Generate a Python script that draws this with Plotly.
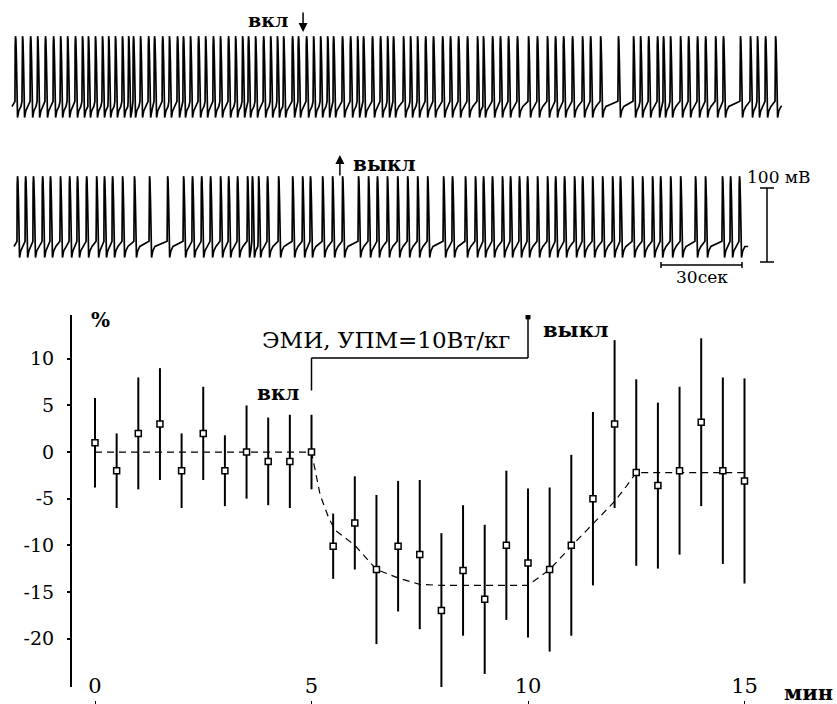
import plotly.graph_objects as go

W, H = 837, 704

# ---------------- intracellular recordings ----------------
# spike onset times (s) in the recording before/at field onset ("вкл")
spikes_on = [1.1, 3.7, 6.7, 9.3, 12.2, 15.2, 17.8, 20.4, 23.3, 25.9, 28.1, 30.7, 33.3,
             35.6, 38.1, 40.7, 43.0, 44.8, 47.4, 50.4, 52.6, 55.6, 58.1, 61.1, 63.3,
             65.9, 68.9, 71.5, 74.4, 77.0, 80.0, 82.6, 85.2, 87.4, 90.0, 93.0, 95.6,
             98.1, 100.4, 103.7, 105.9, 108.9, 111.5, 114.1, 116.7, 118.9, 122.2,
             125.2, 127.8, 130.0, 133.3, 136.3, 138.9, 141.1, 144.8, 147.4, 150.0,
             153.0, 155.9, 159.3, 162.2, 165.2, 168.5, 172.2, 174.4, 177.8, 180.7,
             183.7, 187.0, 191.1, 194.4, 198.1, 201.1, 204.1, 207.4, 211.1, 214.1,
             217.8, 224.4, 230.0, 232.6, 235.6, 238.9, 241.1, 243.7, 247.4, 250.4,
             253.7, 256.7, 260.4, 263.3, 269.6, 273.3, 275.9, 278.9, 282.6]
# spike onset times (s) in the recording around field offset ("выкл")
spikes_off = [1.1, 4.1, 7.0, 10.4, 13.3, 17.0, 20.4, 23.3, 26.7, 30.4, 33.3, 36.3, 40.0,
              44.4, 50.0, 56.7, 62.6, 65.9, 69.3, 72.6, 76.3, 79.3, 82.6, 86.3, 88.1,
              90.4, 93.7, 97.8, 103.0, 106.7, 109.6, 114.1, 117.8, 121.5, 127.4, 131.1,
              134.4, 138.1, 141.9, 145.6, 149.3, 153.0, 158.9, 162.2, 167.0, 170.7,
              173.7, 177.0, 180.7, 183.7, 187.0, 190.0, 193.7, 197.4, 200.4, 203.7,
              207.4, 210.4, 214.1, 217.8, 221.5, 224.4, 228.9, 232.6, 236.3, 239.3,
              243.0, 246.7, 252.2, 255.9, 262.2, 265.2, 268.5]
rec_on_len = 285.2    # s
rec_off_len = 271.9   # s
mark_on_t = 107.8     # s, field switched on
mark_off_t = 120.7    # s, field switched off

# shape of a single action potential: time after onset (s), potential (mV from rest)
ap_dt = [0.0, 0.08, 0.2, 0.35, 0.55, 0.75, 0.95, 1.4, 2.2]
ap_mv = [5, 80, 93, 88, 60, 10, -17, -8, -2]
rest_mv = -2

scale_t = 30    # s
scale_v = 100   # mV

# ---------------- averaged response ----------------
minutes = [0, 0.5, 1, 1.5, 2, 2.5, 3, 3.5, 4, 4.5, 5, 5.5, 6, 6.5, 7, 7.5, 8, 8.5,
           9, 9.5, 10, 10.5, 11, 11.5, 12, 12.5, 13, 13.5, 14, 14.5, 15]
change_pct = [1, -2, 2, 3, -2, 2, -2, 0, -1, -1, 0, -10.1, -7.6, -12.6, -10.1, -11,
              -17, -12.7, -15.8, -10, -11.9, -12.6, -10, -5, 3, -2.2, -3.6, -2, 3.2,
              -2, -3.1]
err_pct = [4.8, 4, 6, 6, 4, 5, 3.8, 5, 4.7, 5, 4, 3.5, 5, 8, 7, 8, 8.3, 7, 8, 8, 8,
           8.8, 9.7, 9.3, 9, 10, 8.9, 9, 9, 10, 11]
fit_min = [0, 5, 5.2, 5.4, 5.55, 6, 6.5, 7, 7.5, 8, 10, 10.5, 11, 11.5, 12, 12.25,
           12.5, 15]
fit_pct = [0, 0, -4.6, -7.1, -8.4, -10, -12.6, -13.5, -14.2, -14.3, -14.3, -12.6,
           -10.1, -7.7, -5.3, -3.8, -2.2, -2.2]
stim_on, stim_off = 5, 10
y_ticks = [10, 5, 0, -5, -10, -15, -20]
x_ticks = [0, 5, 10, 15]

SERIF = "DejaVu Serif"
PX_S = 2.7      # px per second on the recordings
PX_MV = 0.74    # px per mV on the recordings


def build_trace(spikes, t_end):
    xs, ys = [0.0], [rest_mv]
    for i, ts in enumerate(spikes):
        nxt = spikes[i + 1] if i + 1 < len(spikes) else t_end
        for dt, v in zip(ap_dt, ap_mv):
            if ts + dt < nxt:
                xs.append(ts + dt)
                ys.append(v)
    xs.append(t_end)
    ys.append(rest_mv)
    return xs, ys


def py(p):
    return 1 - p / H


fig = go.Figure()

x1, y1 = build_trace(spikes_on, rec_on_len)
x2, y2 = build_trace(spikes_off, rec_off_len)
line_style = dict(color="black", width=1.7)
fig.add_trace(go.Scatter(x=x1, y=y1, mode="lines", line=line_style,
                         xaxis="x", yaxis="y", hoverinfo="skip"))
fig.add_trace(go.Scatter(x=x2, y=y2, mode="lines", line=line_style,
                         xaxis="x2", yaxis="y2", hoverinfo="skip"))

# averaged response panel
fig.add_trace(go.Scatter(x=fit_min, y=fit_pct, mode="lines",
                         line=dict(color="black", width=1.2, dash="7px,5px"),
                         xaxis="x3", yaxis="y3", hoverinfo="skip"))
fig.add_trace(go.Scatter(
    x=minutes, y=change_pct, mode="markers",
    marker=dict(symbol="square", size=6, color="white",
                line=dict(color="black", width=1.5)),
    error_y=dict(type="data", array=err_pct, visible=True, color="black",
                 thickness=2, width=0),
    xaxis="x3", yaxis="y3"))
fig.add_trace(go.Scatter(x=[stim_off], y=[14.5], mode="markers",
                         marker=dict(symbol="square", size=5, color="black"),
                         xaxis="x3", yaxis="y3", hoverinfo="skip"))

# axis geometry for the two recordings
top_base, top_lo, top_hi = 105, 125, 0
bot_base, bot_lo, bot_hi = 245, 290, 140
lay = dict(
    width=W, height=H, margin=dict(l=0, r=0, t=0, b=0),
    paper_bgcolor="white", plot_bgcolor="white", showlegend=False,
    xaxis=dict(domain=[0, 1], range=[-12 / PX_S, (W - 12) / PX_S], visible=False,
               anchor="y"),
    yaxis=dict(domain=[py(top_lo), py(top_hi)],
               range=[-(top_lo - top_base) / PX_MV, (top_base - top_hi) / PX_MV],
               visible=False, anchor="x"),
    xaxis2=dict(domain=[0, 1], range=[-14 / PX_S, (W - 14) / PX_S], visible=False,
                anchor="y2"),
    yaxis2=dict(domain=[py(bot_lo), py(bot_hi)],
                range=[-(bot_lo - bot_base) / PX_MV, (bot_base - bot_hi) / PX_MV],
                visible=False, anchor="x2"),
    xaxis3=dict(domain=[72 / W, 1], range=[-23 / 43.3, (W - 95) / 43.3],
                anchor="free", position=py(700), showline=False, showgrid=False,
                zeroline=False, tickvals=x_ticks, ticktext=[str(v) for v in x_ticks],
                ticks="outside", ticklen=4, tickwidth=1, tickcolor="black",
                ticklabelposition="inside", ticklabelstandoff=0,
                tickfont=dict(family=SERIF, size=21, color="black")),
    yaxis3=dict(domain=[py(687), py(315)], range=[-25.2, 14.7], anchor="x3",
                showline=True, linewidth=2, linecolor="black", showgrid=False,
                zeroline=False, tickvals=y_ticks,
                ticktext=[str(v) for v in y_ticks], ticks="outside", ticklen=3,
                tickwidth=1.5, tickcolor="black", ticklabelstandoff=9,
                tickfont=dict(family=SERIF, size=19, color="black")),
)
fig.update_layout(**lay)

shapes = []
# stimulation bracket
for xa, xb, ya, yb in [(stim_on, stim_on, 6.6, 10.1), (stim_on, stim_off, 10.1, 10.1),
                       (stim_off, stim_off, 10.1, 14.4)]:
    shapes.append(dict(type="line", xref="x3", yref="y3", x0=xa, x1=xb, y0=ya, y1=yb,
                       line=dict(color="black", width=1.5)))
# calibration bars on the second recording
sb_t0 = (661 - 14) / PX_S
sb_v = -(265 - bot_base) / PX_MV
shapes.append(dict(type="line", xref="x2", yref="y2", x0=sb_t0, x1=sb_t0 + scale_t,
                   y0=sb_v, y1=sb_v, line=dict(color="black", width=1.5)))
for tt in (sb_t0, sb_t0 + scale_t):
    shapes.append(dict(type="line", xref="x2", yref="y2", x0=tt, x1=tt,
                       y0=sb_v - 4, y1=sb_v + 4, line=dict(color="black", width=1.5)))
vb_t = (767 - 14) / PX_S
vb_lo = -(262 - bot_base) / PX_MV
shapes.append(dict(type="line", xref="x2", yref="y2", x0=vb_t, x1=vb_t,
                   y0=vb_lo, y1=vb_lo + scale_v, line=dict(color="black", width=1.5)))
for vv in (vb_lo, vb_lo + scale_v):
    shapes.append(dict(type="line", xref="x2", yref="y2", x0=vb_t - 2.6, x1=vb_t + 2.6,
                       y0=vv, y1=vv, line=dict(color="black", width=1.5)))
fig.update_layout(shapes=shapes)

ann = []
# field on / off marks on the recordings
ann.append(dict(x=mark_on_t, y=(top_base - 32) / PX_MV, xref="x", yref="y", text="",
                showarrow=True, ax=0, ay=-21, arrowhead=2, arrowsize=1.2,
                arrowwidth=1.5, arrowcolor="black"))
ann.append(dict(x=(268 - 12) / PX_S, y=(top_base - 20) / PX_MV, xref="x", yref="y",
                text="<b>вкл</b>", showarrow=False, xanchor="center",
                font=dict(family=SERIF, size=19, color="black")))
ann.append(dict(x=mark_off_t, y=(bot_base - 155) / PX_MV, xref="x2", yref="y2", text="",
                showarrow=True, ax=0, ay=22, arrowhead=2, arrowsize=1.2,
                arrowwidth=1.5, arrowcolor="black"))
ann.append(dict(x=(384 - 14) / PX_S, y=(bot_base - 164) / PX_MV, xref="x2", yref="y2",
                text="<b>выкл</b>", showarrow=False, xanchor="center",
                font=dict(family=SERIF, size=20, color="black")))
ann.append(dict(x=(702 - 14) / PX_S, y=-(277 - bot_base) / PX_MV, xref="x2", yref="y2",
                text="30сек", showarrow=False, xanchor="center",
                font=dict(family=SERIF, size=17, color="black")))
ann.append(dict(x=(779 - 14) / PX_S, y=(bot_base - 177) / PX_MV, xref="x2", yref="y2",
                text="100 мВ", showarrow=False, xanchor="center",
                font=dict(family=SERIF, size=17, color="black")))
# averaged response labels
ann.append(dict(x=6.71, y=12.0, xref="x3", yref="y3", text="ЭМИ, УПМ=10Вт/кг",
                showarrow=False, xanchor="center",
                font=dict(family=SERIF, size=23, color="black")))
ann.append(dict(x=4.23, y=6.3, xref="x3", yref="y3", text="<b>вкл</b>",
                showarrow=False, xanchor="center",
                font=dict(family=SERIF, size=20, color="black")))
ann.append(dict(x=11.1, y=13.1, xref="x3", yref="y3", text="<b>выкл</b>",
                showarrow=False, xanchor="center",
                font=dict(family=SERIF, size=21, color="black")))
ann.append(dict(x=0.12, y=14.2, xref="x3", yref="y3", text="<b>%</b>",
                showarrow=False, xanchor="center",
                font=dict(family=SERIF, size=20, color="black")))
ann.append(dict(x=808 / W, y=py(692), xref="paper", yref="paper", text="<b>мин</b>",
                showarrow=False, xanchor="center", yanchor="middle",
                font=dict(family=SERIF, size=21, color="black")))
fig.update_layout(annotations=ann)

fig.write_html("out.html")
